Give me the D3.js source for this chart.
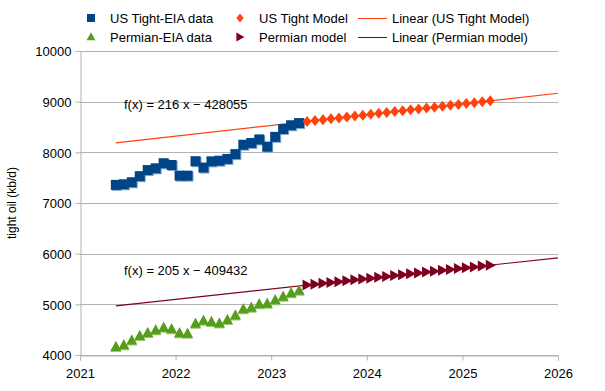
<!DOCTYPE html>
<html lang="en">
<head>
	<meta charset="UTF-8"/>
	<title>Tight oil - EIA data and model</title>
	<script src="https://d3js.org/d3.v7.min.js"></script>
	<style>
		body { margin: 0; background: #fff; }
		text { font-family: "Liberation Sans", Arial, sans-serif; fill: #000; }
	</style>
</head>
<body>
<script>

	var w = 605;
	var h = 391;
	var margin = {top: 51, right: 47, bottom: 36, left: 80};

	// months are "YYYY-MM", plotted at mid month
	var dataMonths = ["2021-05","2021-06","2021-07","2021-08","2021-09","2021-10","2021-11","2021-12",
					  "2022-01","2022-02","2022-03","2022-04","2022-05","2022-06","2022-07","2022-08",
					  "2022-09","2022-10","2022-11","2022-12","2023-01","2023-02","2023-03","2023-04"];
	var modelMonths = ["2023-05","2023-06","2023-07","2023-08","2023-09","2023-10","2023-11","2023-12",
					   "2024-01","2024-02","2024-03","2024-04","2024-05","2024-06","2024-07","2024-08",
					   "2024-09","2024-10","2024-11","2024-12","2025-01","2025-02","2025-03","2025-04"];

	var usTightEIA = [7358, 7370, 7410, 7530, 7650, 7685, 7785, 7750, 7540, 7540, 7825, 7700,
					  7822, 7835, 7870, 7965, 8150, 8185, 8255, 8112, 8305, 8460, 8535, 8578];
	var permianEIA = [4160, 4190, 4285, 4373, 4432, 4490, 4540, 4510, 4430, 4420, 4615, 4675,
					  4650, 4620, 4690, 4780, 4905, 4935, 5003, 5013, 5082, 5150, 5219, 5270];
	var usTightModel = [8610, 8627, 8645, 8663, 8680, 8698, 8716, 8733, 8751, 8769, 8786, 8804,
						8822, 8839, 8857, 8875, 8892, 8910, 8928, 8945, 8963, 8981, 8998, 9016];
	var permianModel = [5380, 5397, 5414, 5431, 5448, 5466, 5483, 5500, 5517, 5534, 5551, 5568,
						5585, 5602, 5619, 5636, 5653, 5671, 5688, 5705, 5722, 5739, 5756, 5773];

	var xTicks = [2021, 2022, 2023, 2024, 2025, 2026];
	var yTicks = [4000, 5000, 6000, 7000, 8000, 9000, 10000];
	var eqUS = "f(x) = 216 x \u2212 428055";
	var eqPermian = "f(x) = 205 x \u2212 409432";

	function toYear(m) {
		var p = m.split("-");
		return +p[0] + (+p[1] - 0.5) / 12;
	}
	function pairs(months, vals) {
		return months.map(function(m, i) { return [toYear(m), vals[i]]; });
	}
	// least squares fit, like the spreadsheet trend line
	function fit(pts) {
		var mx = d3.mean(pts, function(d) { return d[0]; });
		var my = d3.mean(pts, function(d) { return d[1]; });
		var num = d3.sum(pts, function(d) { return (d[0] - mx) * (d[1] - my); });
		var den = d3.sum(pts, function(d) { return (d[0] - mx) * (d[0] - mx); });
		var b = num / den;
		return {b: b, a: my - b * mx};
	}

	var usData = pairs(dataMonths, usTightEIA);
	var pmData = pairs(dataMonths, permianEIA);
	var usModel = pairs(modelMonths, usTightModel);
	var pmModel = pairs(modelMonths, permianModel);

	var xScale = d3.scaleLinear()
				.domain([2021, 2026])
				.range([margin.left, w - margin.right]);
	var yScale = d3.scaleLinear()
				.domain([4000, 10000])
				.range([h - margin.bottom, margin.top]);

	var svg = d3.select("body")
				.append("svg")
				.attr("width", w)
				.attr("height", h);

	// grid lines
	svg.append("g")
		.selectAll("line")
		.data(yTicks)
		.enter()
		.append("line")
		.attr("x1", xScale(2021))
		.attr("x2", xScale(2026))
		.attr("y1", function(d) { return Math.round(yScale(d)) + 0.5; })
		.attr("y2", function(d) { return Math.round(yScale(d)) + 0.5; })
		.attr("stroke", "#b3b3b3");

	var yAxis = svg.append("g")
		.attr("transform", "translate(" + (Math.round(xScale(2021)) + 0.5) + ",0)")
		.call(d3.axisLeft(yScale).tickValues(yTicks).tickSize(5).tickPadding(4).tickFormat(d3.format("d")));
	var xAxis = svg.append("g")
		.attr("transform", "translate(0," + (Math.round(yScale(4000)) + 0.5) + ")")
		.call(d3.axisBottom(xScale).tickValues(xTicks).tickSize(5).tickPadding(8).tickFormat(d3.format("d")));
	[xAxis, yAxis].forEach(function(ax) {
		ax.select(".domain").attr("stroke", "#b3b3b3");
		ax.selectAll(".tick line").attr("stroke", "#b3b3b3");
		ax.selectAll("text").style("font-size", "13px").attr("fill", "#000");
	});
	yAxis.selectAll("text").attr("dy", "0.36em");

	svg.append("text")
		.attr("transform", "translate(16," + ((margin.top + h - margin.bottom) / 2) + ") rotate(-90)")
		.attr("text-anchor", "middle")
		.style("font-size", "12px")
		.text("tight oil (kb/d)");

	// trend lines from the model series, drawn from first data month to 2026
	var x0 = usData[0][0], x1 = 2026;
	[[usModel, "#ff420e"], [pmModel, "#7e0021"]].forEach(function(s) {
		var f = fit(s[0]);
		svg.append("line")
			.attr("x1", xScale(x0))
			.attr("y1", yScale(f.a + f.b * x0))
			.attr("x2", xScale(x1))
			.attr("y2", yScale(f.a + f.b * x1))
			.attr("stroke", s[1])
			.attr("stroke-width", 1.2);
	});

	var sq = "M-5,-5L5,-5L5,5L-5,5Z";
	var diamond = "M0,-5.5L4.5,0L0,5.5L-4.5,0Z";
	var tri = "M0,-6L5.5,4L-5.5,4Z";
	var arrow = "M-4.5,-5.5L5.5,0L-4.5,5.5Z";

	function drawSeries(data, path, color, cls) {
		svg.append("g")
			.selectAll("path")
			.data(data)
			.enter()
			.append("path")
			.attr("class", cls)
			.attr("d", path)
			.attr("transform", function(d) { return "translate(" + xScale(d[0]) + "," + yScale(d[1]) + ")"; })
			.attr("fill", color);
	}

	// light edge behind the data markers
	drawSeries(usData.map(function(d) { return d; }), sq, "#7fa6cf", "edge");
	svg.selectAll("path.edge").attr("transform", function(d) {
		return "translate(" + (xScale(d[0]) + 1) + "," + (yScale(d[1]) + 1) + ")";
	});
	drawSeries(usData, sq, "#004586", "us");
	drawSeries(pmData, "M0,-6L5.5,5L-5.5,5Z", "#9cc97a", "pedge");
	drawSeries(pmData, tri, "#579d1c", "pm");
	drawSeries(usModel, diamond, "#ff420e", "usm");
	drawSeries(pmModel, arrow, "#7e0021", "pmm");

	svg.append("text").attr("x", 124).attr("y", 109).style("font-size", "13px").text(eqUS);
	svg.append("text").attr("x", 124).attr("y", 275).style("font-size", "13px").text(eqPermian);

	// legend
	var legend = [
		{x: 91, y: 18, type: "sym", d: sq, c: "#004586", s: 0.8, t: "US Tight-EIA data"},
		{x: 240, y: 18, type: "sym", d: diamond, c: "#ff420e", s: 0.8, t: "US Tight Model"},
		{x: 358, y: 18, type: "line", c: "#ff420e", t: "Linear (US Tight Model)"},
		{x: 91, y: 37, type: "sym", d: tri, c: "#579d1c", s: 0.8, t: "Permian-EIA data"},
		{x: 240, y: 37, type: "sym", d: arrow, c: "#7e0021", s: 0.8, t: "Permian model"},
		{x: 358, y: 37, type: "line", c: "#7e0021", t: "Linear (Permian model)"}
	];
	legend.forEach(function(l) {
		if (l.type == "sym") {
			svg.append("path")
				.attr("d", l.d)
				.attr("transform", "translate(" + l.x + "," + l.y + ") scale(" + l.s + ")")
				.attr("fill", l.c);
			svg.append("text").attr("x", l.x + 19).attr("y", l.y + 5).style("font-size", "13px").text(l.t);
		} else {
			svg.append("line")
				.attr("x1", l.x).attr("x2", l.x + 29)
				.attr("y1", l.y + 0.5).attr("y2", l.y + 0.5)
				.attr("stroke", l.c);
			svg.append("text").attr("x", l.x + 34).attr("y", l.y + 5).style("font-size", "13px").text(l.t);
		}
	});
</script>
</body>
</html>
